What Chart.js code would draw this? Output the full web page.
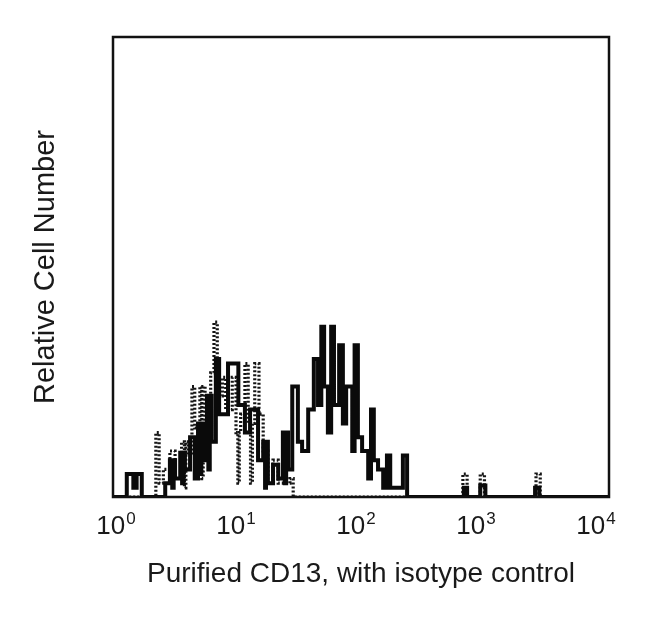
<!DOCTYPE html>
<html>
<head>
<meta charset="utf-8">
<script src="https://cdn.jsdelivr.net/npm/chart.js@4"></script>
<style>
  html, body { margin: 0; padding: 0; background: #fff; }
  canvas { display: block; }
</style>
</head>
<body>
<canvas id="histo" width="650" height="622"></canvas>
<script>
/* ── Data (1024-channel, 4-decade log scale; 256 channels per decade) ── */

// CD13 stained sample (solid line): each count holds from its channel to the next
const sampleChannels = [-6, 23, 37, 44, 55, 105, 115, 120, 123, 126, 137, 141, 144, 147, 158,
  168, 175, 179, 182, 186, 194, 197, 200, 204, 213, 220, 239, 261, 275, 286,
  303, 314, 318, 320, 324, 335, 346, 356, 360, 363, 367, 376, 388, 397, 410,
  422, 431, 438, 444, 452, 459, 465, 476, 484, 491, 504, 509, 516, 525, 538,
  544, 550, 559, 570, 578, 585, 612, 621, 742, 749, 777, 788, 894, 903, 1052];
const sampleCounts = [0, 5, 2, 5, 0, 3, 8, 2, 8, 4, 9.6, 3, 9.6, 6, 13,
  4, 16, 5, 16, 8, 22, 6, 22, 12, 30, 18, 29, 20, 14, 19,
  8, 12, 2, 12, 3, 7, 4, 14, 3, 14, 6, 24, 12, 10, 19,
  30, 20, 37, 24, 14, 37, 20, 33, 16, 24, 10, 33, 13, 10, 4,
  19, 8, 6, 2, 9, 2, 9, 0, 2, 0, 2.5, 0, 2, 0, 0];

// isotype control (dashed line)
const isotypeChannels = [-6, 85, 92, 101, 115, 126, 140, 146, 149, 154, 162, 168, 179, 183, 186,
  190, 202, 209, 216, 227, 234, 248, 256, 260, 263, 266, 275, 282, 287, 291,
  296, 305, 314, 324, 335, 346, 371, 378, 740, 749, 777, 786, 896, 905, 1052];
const isotypeCounts = [0, 14, 3, 6, 10, 5, 12, 2, 12, 9, 24, 15, 24, 4, 24,
  16, 27, 38, 22, 26, 19, 26, 14, 3, 14, 18, 29, 16, 3, 16,
  29, 18, 10, 4, 8, 3, 4, 0, 5, 0, 5, 0, 5, 0, 0];

const tickChannels = [0, 256, 512, 768, 1024];
const tickBase     = '10';
const tickPowers   = ['0', '1', '2', '3', '4'];

const xTitle = 'Purified CD13, with isotype control';
const yTitle = 'Relative Cell Number';

/* ── Helpers ─────────────────────────────────────── */

const FONT = "'Liberation Sans', Arial, Helvetica, sans-serif";
const INK  = '#1a1a1a';

const toPoints = (xs, ys) => xs.map((x, i) => ({ x, y: ys[i] }));

// black box round the plot area
const frame = {
  id: 'frame',
  afterDatasetsDraw(chart) {
    const { ctx, chartArea: a } = chart;
    ctx.save();
    ctx.strokeStyle = '#111';
    ctx.lineWidth = 2.5;
    ctx.strokeRect(a.left, a.top, a.right - a.left, a.bottom - a.top);
    ctx.restore();
  },
};

// "10" with a raised power, centred under each decade tick
const decadeLabels = {
  id: 'decadeLabels',
  afterDraw(chart) {
    const { ctx, scales: { x }, chartArea: a } = chart;
    ctx.save();
    ctx.fillStyle = INK;
    ctx.textBaseline = 'alphabetic';
    ctx.textAlign = 'left';
    tickChannels.forEach((v, i) => {
      const px = x.getPixelForValue(v);
      ctx.font = `26px ${FONT}`;
      const wb = ctx.measureText(tickBase).width;
      ctx.font = `17px ${FONT}`;
      const wp = ctx.measureText(tickPowers[i]).width;
      const left = px - (wb + wp + 1) / 2;
      ctx.font = `26px ${FONT}`;
      ctx.fillText(tickBase, left, a.bottom + 37);
      ctx.font = `17px ${FONT}`;
      ctx.fillText(tickPowers[i], left + wb + 1, a.bottom + 27);
    });
    ctx.restore();
  },
};

/* ── Chart ───────────────────────────────────────── */

new Chart(document.getElementById('histo'), {
  type: 'line',
  data: {
    datasets: [
      {
        label: 'CD13',
        data: toPoints(sampleChannels, sampleCounts),
        stepped: 'before',
        borderColor: '#0a0a0a',
        borderWidth: 4,
        pointRadius: 0,
        fill: false,
      },
      {
        label: 'Isotype control',
        data: toPoints(isotypeChannels, isotypeCounts),
        stepped: 'before',
        borderColor: '#151515',
        borderWidth: 3.2,
        borderDash: [2, 2],
        pointRadius: 0,
        fill: false,
      },
    ],
  },
  options: {
    responsive: false,
    animation: false,
    layout: { padding: { top: 37, right: 41, left: 0, bottom: 0 } },
    plugins: {
      legend:  { display: false },
      tooltip: { enabled: false },
    },
    scales: {
      x: {
        type: 'linear',
        min: -6.4,
        max: 1051.7,
        grid:   { display: false, drawTicks: false },
        border: { display: false },
        ticks:  { display: false },
        afterBuildTicks: s => { s.ticks = tickChannels.map(v => ({ value: v })); },
        afterFit: s => { s.height = 125; },
        title: {
          display: true,
          text: xTitle,
          color: INK,
          font: { family: FONT, size: 28 },
          padding: { top: 0, bottom: 31 },
        },
      },
      y: {
        min: 0,
        max: 100,
        grid:   { display: false, drawTicks: false },
        border: { display: false },
        ticks:  { display: false },
        afterFit: s => { s.width = 113; },
        title: {
          display: true,
          text: yTitle,
          color: INK,
          font: { family: FONT, size: 29 },
          padding: { top: 29, bottom: 0 },
        },
      },
    },
  },
  plugins: [frame, decadeLabels],
});
</script>
</body>
</html>
